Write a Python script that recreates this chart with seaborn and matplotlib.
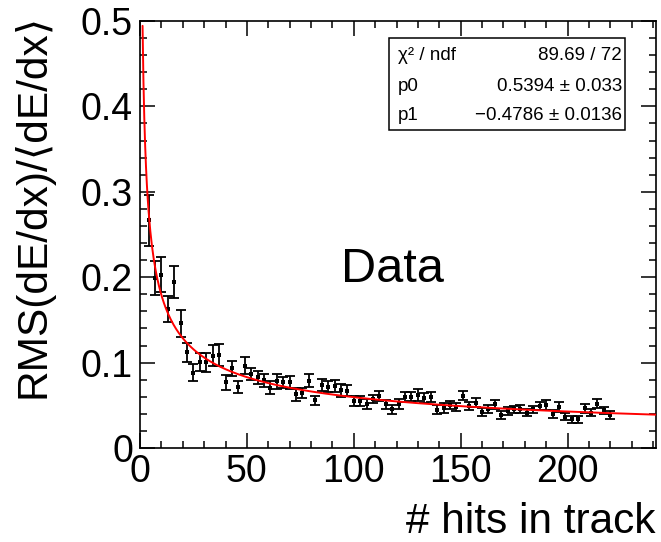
import numpy as np
import pandas as pd
import matplotlib
matplotlib.use("Agg")
import matplotlib.pyplot as plt
from matplotlib.ticker import MultipleLocator
from matplotlib.patches import Rectangle
import seaborn as sns

# Bin centres (# hits in track)
hits = [4, 7, 10, 13, 16, 19, 22, 25, 28, 31, 34, 37, 40, 43, 46, 49, 52, 55,
        58, 61, 64, 67, 70, 73, 76, 79, 82, 85, 88, 91, 94, 97, 100, 103, 106,
        109, 112, 115, 118, 121, 124, 127, 130, 133, 136, 139, 142, 145, 148,
        151, 154, 157, 160, 163, 166, 169, 172, 175, 178, 181, 184, 187, 190,
        193, 196, 199, 202, 205, 208, 211, 214, 217, 220]

# Relative dE/dx resolution per bin
rms_rel = [0.2665, 0.1988, 0.2031, 0.1628, 0.1945, 0.1460, 0.1119, 0.0884,
           0.1010, 0.1002, 0.1080, 0.1092, 0.0767, 0.0935, 0.0716, 0.0963,
           0.0865, 0.0826, 0.0794, 0.0708, 0.0779, 0.0767, 0.0767, 0.0630,
           0.0640, 0.0790, 0.0560, 0.0740, 0.0720, 0.0728, 0.0677, 0.0669,
           0.0552, 0.0550, 0.0513, 0.0572, 0.0610, 0.0513, 0.0454, 0.0513,
           0.0600, 0.0599, 0.0622, 0.0590, 0.0600, 0.0446, 0.0473, 0.0500,
           0.0480, 0.0610, 0.0493, 0.0532, 0.0420, 0.0454, 0.0510, 0.0383,
           0.0434, 0.0454, 0.0454, 0.0415, 0.0454, 0.0493, 0.0505, 0.0395,
           0.0480, 0.0368, 0.0337, 0.0337, 0.0466, 0.0415, 0.0520, 0.0442,
           0.0387]

rms_err = [0.0297, 0.0196, 0.0210, 0.0153, 0.0188, 0.0157, 0.0112, 0.0094,
           0.0104, 0.0108, 0.0123, 0.0127, 0.0084, 0.0088, 0.0070, 0.0098,
           0.0074, 0.0078, 0.0076, 0.0078, 0.0084, 0.0068, 0.0078, 0.0078,
           0.0060, 0.0080, 0.0053, 0.0072, 0.0063, 0.0074, 0.0074, 0.0065,
           0.0055, 0.0059, 0.0055, 0.0043, 0.0059, 0.0053, 0.0053, 0.0059,
           0.0059, 0.0053, 0.0074, 0.0059, 0.0057, 0.0053, 0.0059, 0.0047,
           0.0049, 0.0053, 0.0047, 0.0055, 0.0045, 0.0045, 0.0055, 0.0049,
           0.0043, 0.0043, 0.0047, 0.0043, 0.0043, 0.0049, 0.0059, 0.0045,
           0.0059, 0.0043, 0.0043, 0.0043, 0.0053, 0.0045, 0.0049, 0.0043,
           0.0049]

# Power-law fit  f(n) = p0 * n^p1
p0, p0_err = 0.5394, 0.033
p1, p1_err = -0.4786, 0.0136
chi2, ndf = 89.69, 72

x_tick_labels = ["0", "50", "100", "150", "200"]
y_tick_labels = ["0", "0.1", "0.2", "0.3", "0.4", "0.5"]

sns.set_theme(style="ticks")
plt.rcParams["font.family"] = ["Liberation Sans", "DejaVu Sans"]
plt.rcParams["axes.linewidth"] = 1.2

df = pd.DataFrame({"hits": hits, "rms": rms_rel, "err": rms_err})
n_fit = np.linspace(1.2, 241.4, 600)
fit_df = pd.DataFrame({"hits": n_fit, "f": p0 * n_fit ** p1})

W, H = 661, 542
fig = plt.figure(figsize=(W / 100, H / 100), dpi=100)
ax = fig.add_axes([140 / W, 1 - 448 / H, (656 - 140) / W, (448 - 21) / H])

ax.errorbar(df["hits"], df["rms"], yerr=df["err"], fmt="none", ecolor="black",
            elinewidth=1.3, capsize=3.4, capthick=1.3, zorder=2)
sns.scatterplot(data=df, x="hits", y="rms", marker="s", s=10, color="black",
                edgecolor="black", linewidth=0, ax=ax, zorder=3)
sns.lineplot(data=fit_df, x="hits", y="f", color="#ff0000", linewidth=1.4,
             ax=ax, zorder=4)

ax.set_xlim(0, 241.4)
ax.set_ylim(0, 0.5)
ax.xaxis.set_minor_locator(MultipleLocator(10))
ax.yaxis.set_minor_locator(MultipleLocator(0.02))
ax.set_xticks([0, 50, 100, 150, 200])
ax.set_xticklabels(x_tick_labels)
ax.set_yticks([0, 0.1, 0.2, 0.3, 0.4, 0.5])
ax.set_yticklabels(y_tick_labels)
ax.tick_params(which="both", direction="in", top=True, right=True,
               color="black", width=1.1, labelcolor="black")
ax.tick_params(which="major", length=10.5, labelsize=27)
ax.tick_params(which="minor", length=5.2)
ax.tick_params(axis="x", which="major", pad=4)
ax.tick_params(axis="y", which="major", pad=5)
for s in ax.spines.values():
    s.set_color("black")
ax.set_xlabel("")
ax.set_ylabel("")

fig.text(655 / W, 1 - 533 / H, "# hits in track", ha="right", va="baseline",
         fontsize=30.5, color="black")
fig.text(33 / W, 1 - 14 / H, "RMS(dE/dx)/\u27e8dE/dx\u27e9", rotation=90,
         ha="center", va="top", fontsize=30.5, color="black")

ax.text(94, 0.194, "Data", fontsize=35, color="black", va="baseline")

# Fit statistics box
box_l, box_r, box_t, box_b = 389, 625, 38, 130
fig.patches.append(Rectangle((box_l / W, 1 - box_b / H), (box_r - box_l) / W,
                             (box_b - box_t) / H, transform=fig.transFigure,
                             facecolor="white", edgecolor="black",
                             linewidth=1.1, zorder=5))
rows = [("\u03c7\u00b2 / ndf", f"{chi2:.2f} / {ndf}"),
        ("p0", f"{p0:.4f} \u00b1 {p0_err:.3f}"),
        ("p1", f"\u2212{abs(p1):.4f} \u00b1 {p1_err:.4f}")]
row_y = [55, 87, 115]
for (lab, val), yy in zip(rows, row_y):
    fig.text(398 / W, 1 - yy / H, lab, ha="left", va="center", fontsize=13.5,
             color="black", zorder=6)
    fig.text(622 / W, 1 - yy / H, val, ha="right", va="center", fontsize=13.5,
             color="black", zorder=6)

fig.savefig("out.png", dpi=100)
